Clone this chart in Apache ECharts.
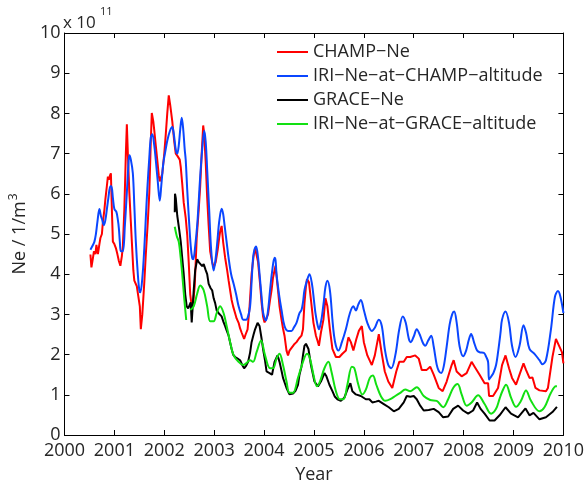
<!doctype html>
<html>
    <head>
        <meta charset="utf-8">
        <title>CHAMP / GRACE Ne</title>
        <style>
            html, body { margin: 0; padding: 0; background: #fff; }
            #main { width: 587px; height: 489px; }
        </style>
    </head>
    <body>
        <div id="main"></div>
        <script src="https://cdn.jsdelivr.net/npm/echarts@6/dist/echarts.min.js"></script>
        <script>
            // values in units of 1e11 per m^3
            var seriesNames = ['CHAMP−Ne', 'IRI−Ne−at−CHAMP−altitude', 'GRACE−Ne', 'IRI−Ne−at−GRACE−altitude'];
            var seriesColors = ['#ff0000', '#0a46ff', '#000000', '#12e012'];
            var xTicks = [2000, 2010, 1];
            var yTicks = [0, 10, 1];

            var champNe = [
                [2000.52, 4.49], [2000.54, 4.17], [2000.57, 4.4], [2000.59, 4.57], [2000.62, 4.5],
                [2000.64, 4.73], [2000.67, 4.5], [2000.7, 4.75], [2000.72, 4.9], [2000.75, 5.0],
                [2000.77, 5.3], [2000.8, 5.6], [2000.82, 5.87], [2000.85, 6.2], [2000.87, 6.43],
                [2000.89, 6.35], [2000.91, 6.45], [2000.93, 6.51], [2000.95, 5.6], [2000.97, 4.81],
                [2001.0, 4.75], [2001.03, 4.65], [2001.06, 4.5], [2001.09, 4.33], [2001.12, 4.21],
                [2001.15, 4.45], [2001.17, 4.7], [2001.2, 5.62], [2001.23, 7.0], [2001.25, 7.73],
                [2001.27, 7.0], [2001.3, 6.03], [2001.33, 5.3], [2001.35, 4.81], [2001.38, 4.1],
                [2001.4, 3.84], [2001.45, 3.7], [2001.48, 3.45], [2001.51, 3.2], [2001.53, 2.63],
                [2001.56, 3.0], [2001.6, 3.8], [2001.63, 4.49], [2001.67, 5.3], [2001.7, 6.03],
                [2001.73, 7.3], [2001.75, 8.01], [2001.78, 7.8], [2001.8, 7.57], [2001.83, 7.2],
                [2001.86, 6.84], [2001.89, 6.45], [2001.91, 6.31], [2001.94, 6.35], [2001.96, 6.5],
                [2002.0, 7.0], [2002.03, 7.48], [2002.06, 8.0], [2002.09, 8.45], [2002.12, 8.2],
                [2002.16, 7.81], [2002.2, 7.3], [2002.23, 7.0], [2002.26, 6.95], [2002.29, 6.92],
                [2002.31, 6.85], [2002.33, 6.67], [2002.36, 6.25], [2002.39, 5.78], [2002.43, 5.4],
                [2002.46, 4.98], [2002.49, 4.3], [2002.52, 3.5], [2002.55, 3.2], [2002.58, 3.3],
                [2002.61, 3.7], [2002.65, 4.9], [2002.69, 5.6], [2002.72, 6.19], [2002.75, 7.0],
                [2002.78, 7.7], [2002.8, 7.5], [2002.83, 6.8], [2002.86, 5.9], [2002.89, 5.2],
                [2002.92, 4.57], [2002.96, 4.3], [2002.99, 4.17], [2003.03, 4.3], [2003.07, 4.6],
                [2003.1, 4.9], [2003.12, 5.06], [2003.15, 5.2], [2003.18, 4.8], [2003.22, 4.41],
                [2003.26, 4.1], [2003.29, 3.84], [2003.32, 3.6], [2003.35, 3.36], [2003.38, 3.2],
                [2003.42, 3.03], [2003.45, 2.9], [2003.49, 2.79], [2003.52, 2.65], [2003.55, 2.55],
                [2003.6, 2.39], [2003.63, 2.5], [2003.67, 2.63], [2003.71, 3.2], [2003.75, 4.0],
                [2003.79, 4.45], [2003.82, 4.65], [2003.85, 4.69], [2003.88, 4.3], [2003.92, 3.76],
                [2003.95, 3.3], [2003.98, 2.95], [2004.01, 2.8], [2004.04, 2.79], [2004.08, 3.0],
                [2004.12, 3.36], [2004.15, 3.6], [2004.18, 3.92], [2004.23, 4.21], [2004.25, 3.95],
                [2004.28, 3.6], [2004.31, 3.2], [2004.35, 2.87], [2004.38, 2.65], [2004.41, 2.47],
                [2004.45, 2.1], [2004.48, 1.98], [2004.51, 2.1], [2004.55, 2.14], [2004.6, 2.25],
                [2004.65, 2.31], [2004.7, 2.4], [2004.75, 2.47], [2004.78, 2.63], [2004.81, 3.28],
                [2004.84, 3.7], [2004.86, 3.88], [2004.9, 3.8], [2004.94, 3.36], [2004.99, 2.79],
                [2005.04, 2.47], [2005.07, 2.35], [2005.1, 2.22], [2005.14, 2.55], [2005.19, 2.87],
                [2005.23, 3.4], [2005.27, 3.2], [2005.32, 2.63], [2005.37, 2.14], [2005.44, 1.94],
                [2005.51, 1.94], [2005.57, 2.02], [2005.64, 2.1], [2005.69, 2.43], [2005.74, 2.31],
                [2005.79, 2.1], [2005.85, 2.39], [2005.9, 2.59], [2005.96, 2.71], [2006.0, 2.31],
                [2006.07, 1.98], [2006.16, 1.74], [2006.22, 1.98], [2006.3, 2.51], [2006.36, 2.02],
                [2006.42, 1.58], [2006.49, 1.33], [2006.57, 1.17], [2006.65, 1.58], [2006.71, 1.82],
                [2006.8, 1.82], [2006.86, 1.94], [2006.93, 1.94], [2007.03, 1.98], [2007.1, 1.9],
                [2007.16, 1.62], [2007.26, 1.62], [2007.33, 1.7], [2007.4, 1.5], [2007.5, 1.17],
                [2007.58, 1.09], [2007.66, 1.33], [2007.76, 1.74], [2007.8, 1.86], [2007.86, 1.58],
                [2007.96, 1.46], [2008.06, 1.54], [2008.16, 1.82], [2008.22, 1.7], [2008.32, 1.5],
                [2008.42, 1.29], [2008.49, 1.29], [2008.51, 0.97], [2008.59, 0.97], [2008.69, 1.17],
                [2008.77, 1.74], [2008.84, 1.98], [2008.91, 1.66], [2008.97, 1.42], [2009.05, 1.25],
                [2009.12, 1.5], [2009.2, 1.78], [2009.25, 1.62], [2009.32, 1.42], [2009.38, 1.43],
                [2009.44, 1.17], [2009.52, 1.11], [2009.65, 1.09], [2009.69, 1.17], [2009.78, 1.94],
                [2009.85, 2.39], [2009.89, 2.39], [2009.97, 2.06], [2010.0, 1.78]
            ];

            var iriChamp = [
                [2000.52, 4.61], [2000.56, 4.7], [2000.6, 4.81], [2000.63, 5.0], [2000.66, 5.3],
                [2000.7, 5.62], [2000.73, 5.45], [2000.75, 5.38], [2000.79, 5.22], [2000.82, 5.35],
                [2000.85, 5.62], [2000.88, 5.9], [2000.92, 6.19], [2000.94, 6.19], [2000.97, 5.9],
                [2001.0, 5.62], [2001.04, 5.55], [2001.07, 5.35], [2001.09, 5.14], [2001.11, 4.8],
                [2001.13, 4.57], [2001.17, 4.57], [2001.21, 5.2], [2001.25, 6.03], [2001.28, 6.7],
                [2001.3, 6.96], [2001.33, 6.85], [2001.37, 6.51], [2001.4, 5.7], [2001.43, 4.81],
                [2001.47, 4.0], [2001.5, 3.6], [2001.52, 3.55], [2001.56, 3.9], [2001.6, 4.65],
                [2001.63, 5.4], [2001.66, 6.11], [2001.7, 6.9], [2001.73, 7.4], [2001.76, 7.48],
                [2001.8, 7.2], [2001.83, 6.84], [2001.87, 6.3], [2001.91, 5.83], [2001.94, 6.2],
                [2001.98, 6.75], [2002.02, 7.05], [2002.06, 7.32], [2002.11, 7.55], [2002.16, 7.66],
                [2002.19, 7.5], [2002.23, 7.1], [2002.26, 7.0], [2002.29, 7.2], [2002.32, 7.6],
                [2002.35, 7.89], [2002.38, 7.6], [2002.41, 7.1], [2002.43, 6.84], [2002.46, 6.1],
                [2002.49, 5.46], [2002.53, 4.7], [2002.56, 4.4], [2002.58, 4.37], [2002.62, 4.7],
                [2002.66, 5.22], [2002.69, 5.8], [2002.72, 6.43], [2002.76, 7.1], [2002.8, 7.57],
                [2002.83, 7.3], [2002.86, 6.6], [2002.9, 5.6], [2002.94, 4.6], [2002.99, 4.09],
                [2003.03, 4.4], [2003.07, 4.9], [2003.1, 5.3], [2003.15, 5.63], [2003.18, 5.5],
                [2003.21, 5.2], [2003.25, 4.8], [2003.29, 4.4], [2003.34, 4.0], [2003.39, 3.76],
                [2003.44, 3.5], [2003.49, 3.2], [2003.54, 3.0], [2003.58, 2.87], [2003.64, 2.87],
                [2003.68, 2.95], [2003.72, 3.2], [2003.75, 3.8], [2003.78, 4.41], [2003.81, 4.62],
                [2003.84, 4.69], [2003.88, 4.41], [2003.91, 4.0], [2003.95, 3.44], [2003.98, 3.05],
                [2004.02, 2.87], [2004.04, 2.85], [2004.08, 3.1], [2004.12, 3.6], [2004.16, 4.05],
                [2004.21, 4.41], [2004.23, 4.35], [2004.25, 4.0], [2004.3, 3.5], [2004.35, 3.11],
                [2004.41, 2.71], [2004.48, 2.59], [2004.55, 2.59], [2004.6, 2.68], [2004.65, 2.79],
                [2004.71, 3.03], [2004.75, 3.11], [2004.78, 3.3], [2004.81, 3.6], [2004.86, 3.84],
                [2004.91, 4.0], [2004.96, 3.76], [2005.0, 3.35], [2005.03, 3.03], [2005.07, 2.75],
                [2005.1, 2.63], [2005.13, 2.75], [2005.16, 2.95], [2005.2, 3.35], [2005.23, 3.68],
                [2005.27, 3.84], [2005.32, 3.6], [2005.37, 2.87], [2005.4, 2.5], [2005.44, 2.22],
                [2005.49, 2.1], [2005.56, 2.31], [2005.64, 2.63], [2005.72, 3.03], [2005.79, 3.2],
                [2005.84, 3.1], [2005.89, 3.25], [2005.94, 3.36], [2006.0, 3.11], [2006.07, 2.79],
                [2006.16, 2.59], [2006.22, 2.67], [2006.3, 2.87], [2006.36, 2.71], [2006.42, 2.14],
                [2006.49, 1.74], [2006.55, 1.66], [2006.63, 1.98], [2006.71, 2.63], [2006.78, 2.95],
                [2006.84, 2.79], [2006.9, 2.4], [2006.94, 2.31], [2007.0, 2.45], [2007.06, 2.63],
                [2007.12, 2.5], [2007.18, 2.3], [2007.23, 2.22], [2007.29, 2.35], [2007.35, 2.47],
                [2007.4, 2.2], [2007.46, 1.75], [2007.5, 1.6], [2007.55, 1.54], [2007.6, 1.7],
                [2007.66, 2.2], [2007.72, 2.75], [2007.77, 3.0], [2007.81, 3.07], [2007.86, 2.8],
                [2007.92, 2.2], [2007.99, 1.96], [2008.05, 2.1], [2008.1, 2.35], [2008.15, 2.51],
                [2008.21, 2.3], [2008.27, 2.1], [2008.32, 2.06], [2008.41, 2.04], [2008.45, 1.95],
                [2008.49, 1.82], [2008.51, 1.38], [2008.55, 1.45], [2008.6, 1.55], [2008.65, 1.74],
                [2008.69, 2.06], [2008.74, 2.55], [2008.77, 2.87], [2008.84, 3.07], [2008.91, 2.79],
                [2008.97, 2.22], [2009.04, 1.94], [2009.12, 2.22], [2009.2, 2.73], [2009.25, 2.55],
                [2009.32, 2.14], [2009.42, 2.02], [2009.52, 1.86], [2009.58, 1.76], [2009.65, 1.86],
                [2009.75, 2.63], [2009.83, 3.44], [2009.89, 3.58], [2009.94, 3.44], [2010.0, 3.03]
            ];

            var graceNe = [
                [2002.21, 5.54], [2002.215, 6.0], [2002.23, 5.9], [2002.26, 5.46], [2002.3, 5.1],
                [2002.33, 4.81], [2002.36, 4.4], [2002.39, 4.0], [2002.42, 3.5], [2002.45, 3.2],
                [2002.48, 3.15], [2002.52, 3.11], [2002.53, 3.3], [2002.55, 2.8], [2002.57, 3.2],
                [2002.59, 3.6], [2002.62, 4.1], [2002.66, 4.37], [2002.69, 4.3], [2002.72, 4.33],
                [2002.76, 4.2], [2002.79, 4.25], [2002.83, 4.1], [2002.86, 4.0], [2002.89, 3.76],
                [2002.93, 3.65], [2002.96, 3.6], [2002.99, 3.4], [2003.02, 3.28], [2003.05, 3.1],
                [2003.09, 3.03], [2003.12, 3.05], [2003.15, 2.95], [2003.19, 2.8], [2003.22, 2.71],
                [2003.25, 2.6], [2003.29, 2.47], [2003.32, 2.3], [2003.35, 2.14], [2003.38, 2.0],
                [2003.42, 1.94], [2003.47, 1.9], [2003.52, 1.86], [2003.56, 1.75], [2003.6, 1.66],
                [2003.64, 1.72], [2003.68, 1.82], [2003.72, 2.05], [2003.75, 2.31], [2003.79, 2.5],
                [2003.82, 2.63], [2003.87, 2.79], [2003.91, 2.71], [2003.95, 2.4], [2003.98, 2.14],
                [2004.02, 1.85], [2004.05, 1.58], [2004.11, 1.54], [2004.16, 1.5], [2004.21, 1.82],
                [2004.27, 1.98], [2004.31, 1.82], [2004.35, 1.6], [2004.38, 1.42], [2004.45, 1.17],
                [2004.51, 1.01], [2004.58, 1.03], [2004.63, 1.1], [2004.68, 1.25], [2004.71, 1.5],
                [2004.75, 1.7], [2004.78, 1.98], [2004.81, 2.22], [2004.84, 2.27], [2004.89, 2.14],
                [2004.94, 1.74], [2005.01, 1.33], [2005.08, 1.21], [2005.14, 1.33], [2005.21, 1.54],
                [2005.25, 1.46], [2005.31, 1.25], [2005.37, 1.09], [2005.42, 0.95], [2005.47, 0.89],
                [2005.54, 0.85], [2005.61, 0.93], [2005.67, 1.13], [2005.73, 1.29], [2005.77, 1.09],
                [2005.84, 1.01], [2005.94, 0.97], [2006.04, 0.89], [2006.11, 0.89], [2006.17, 0.81],
                [2006.24, 0.83], [2006.3, 0.85], [2006.4, 0.77], [2006.5, 0.69], [2006.6, 0.59],
                [2006.7, 0.65], [2006.8, 0.81], [2006.86, 0.97], [2006.93, 0.95], [2007.0, 0.97],
                [2007.06, 0.89], [2007.13, 0.73], [2007.2, 0.61], [2007.3, 0.62], [2007.4, 0.65],
                [2007.5, 0.57], [2007.59, 0.44], [2007.69, 0.46], [2007.79, 0.65], [2007.89, 0.73],
                [2007.99, 0.61], [2008.09, 0.53], [2008.19, 0.61], [2008.27, 0.81], [2008.34, 0.65],
                [2008.42, 0.53], [2008.52, 0.36], [2008.62, 0.36], [2008.72, 0.49], [2008.84, 0.69],
                [2008.95, 0.53], [2009.09, 0.44], [2009.24, 0.66], [2009.32, 0.49], [2009.4, 0.55],
                [2009.52, 0.39], [2009.65, 0.44], [2009.78, 0.57], [2009.87, 0.7]
            ];

            // '-' marks the short gap in the IRI/GRACE curve
            var iriGrace = [
                [2002.21, 5.18], [2002.25, 4.95], [2002.29, 4.81], [2002.33, 4.4], [2002.36, 4.0],
                [2002.4, 3.4], [2002.44, 2.86], [2002.48, '-'], [2002.52, 3.11], [2002.59, 3.2],
                [2002.66, 3.52], [2002.72, 3.72], [2002.79, 3.6], [2002.86, 3.2], [2002.92, 2.83],
                [2002.99, 2.83], [2003.05, 3.03], [2003.12, 3.2], [2003.19, 3.03], [2003.25, 2.71],
                [2003.32, 2.31], [2003.39, 1.98], [2003.49, 1.82], [2003.58, 1.74], [2003.64, 1.78],
                [2003.72, 1.86], [2003.78, 1.82], [2003.85, 2.06], [2003.94, 2.35], [2004.02, 1.98],
                [2004.12, 1.66], [2004.18, 1.66], [2004.25, 1.9], [2004.31, 2.02], [2004.38, 1.74],
                [2004.45, 1.33], [2004.51, 1.05], [2004.58, 1.05], [2004.68, 1.42], [2004.78, 1.82],
                [2004.86, 2.02], [2004.92, 1.9], [2004.99, 1.5], [2005.06, 1.21], [2005.12, 1.33],
                [2005.21, 1.66], [2005.29, 1.82], [2005.35, 1.58], [2005.44, 1.09], [2005.52, 0.89],
                [2005.59, 0.89], [2005.67, 1.25], [2005.76, 1.7], [2005.81, 1.66], [2005.89, 1.25],
                [2005.97, 1.01], [2006.04, 1.13], [2006.12, 1.42], [2006.18, 1.48], [2006.25, 1.25],
                [2006.34, 0.97], [2006.43, 0.85], [2006.53, 0.89], [2006.63, 0.97], [2006.73, 1.05],
                [2006.83, 1.13], [2006.93, 1.09], [2007.06, 1.19], [2007.2, 0.97], [2007.33, 0.87],
                [2007.46, 0.85], [2007.59, 0.69], [2007.69, 0.89], [2007.79, 1.17], [2007.88, 1.27],
                [2007.96, 1.01], [2008.06, 0.73], [2008.16, 0.81], [2008.29, 0.99], [2008.42, 0.77],
                [2008.55, 0.53], [2008.65, 0.65], [2008.72, 0.9], [2008.78, 1.1], [2008.85, 1.25],
                [2008.95, 0.93], [2009.05, 0.7], [2009.15, 0.85], [2009.25, 1.11], [2009.35, 0.85],
                [2009.52, 0.59], [2009.62, 0.69], [2009.75, 1.05], [2009.85, 1.21], [2009.87, 1.21]
            ];

            var font = 'Open Sans';
            var textColor = '#262626';

            function frameAxis(pos, range, showLabel) {
                return {
                    type: 'value',
                    position: pos,
                    min: range[0],
                    max: range[1],
                    interval: range[2],
                    axisLine: { show: true, onZero: false, lineStyle: { color: '#000', width: 1 } },
                    axisTick: { show: true, inside: true, length: 5, lineStyle: { color: '#000' } },
                    axisLabel: {
                        show: showLabel,
                        color: textColor,
                        fontFamily: font,
                        fontSize: 18,
                        margin: pos === 'bottom' ? 7 : 4,
                        formatter: function (v) { return String(v); }
                    },
                    splitLine: { show: false }
                };
            }

            var xBottom = frameAxis('bottom', xTicks, true);
            xBottom.name = 'Year';
            xBottom.nameLocation = 'middle';
            xBottom.nameGap = 31;
            xBottom.nameTextStyle = { color: textColor, fontFamily: font, fontSize: 18 };

            var yLeft = frameAxis('left', yTicks, true);
            yLeft.name = 'Ne / 1/m{sup|3}';
            yLeft.nameLocation = 'middle';
            yLeft.nameGap = 29;
            yLeft.nameTextStyle = {
                color: textColor, fontFamily: font, fontSize: 18,
                rich: {
                    sup: { fontSize: 12, fontFamily: font, color: textColor, padding: [0, 0, 12, 1] }
                }
            };

            var lists = [champNe, iriChamp, graceNe, iriGrace];
            var smoothOf = [false, 0.35, false, 0.35];

            var chart = echarts.init(document.getElementById('main'));
            chart.setOption({
                animation: false,
                backgroundColor: '#fff',
                grid: { left: 63, right: 21, top: 33, bottom: 44, containLabel: false },
                xAxis: [xBottom, frameAxis('top', xTicks, false)],
                yAxis: [yLeft, frameAxis('right', yTicks, false)],
                legend: {
                    orient: 'vertical',
                    left: 277,
                    top: 43,
                    padding: 0,
                    icon: 'rect',
                    itemWidth: 31,
                    itemHeight: 2,
                    itemGap: 6,
                    textStyle: { color: textColor, fontFamily: font, fontSize: 18, lineHeight: 18 },
                    data: seriesNames
                },
                graphic: [
                    { type: 'text', left: 63, top: 15, style: { text: 'x 10', fill: textColor, font: '17px "Open Sans"' } },
                    { type: 'text', left: 100, top: 6, style: { text: '11', fill: textColor, font: '11px "Open Sans"' } }
                ],
                series: lists.map(function (d, i) {
                    return {
                        name: seriesNames[i],
                        type: 'line',
                        data: d,
                        symbol: 'none',
                        smooth: smoothOf[i],
                        clip: true,
                        lineStyle: { color: seriesColors[i], width: 2 },
                        itemStyle: { color: seriesColors[i] }
                    };
                })
            });
            window.addEventListener('resize', function () {
                chart.resize();
            });
        </script>
    </body>
</html>
